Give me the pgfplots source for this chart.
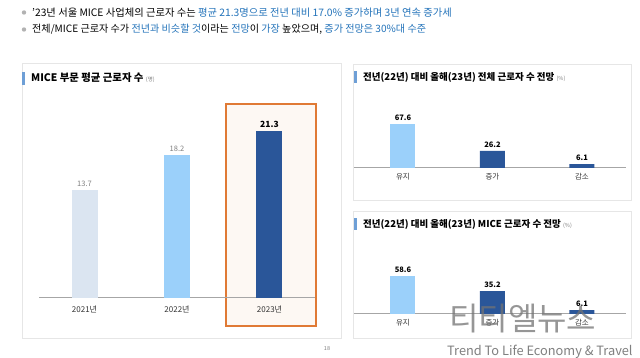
\documentclass[border=0pt]{standalone}
\usepackage{pgfplots}
\pgfplotsset{compat=1.18}
\usepackage{fontspec}
\setmainfont{Noto Sans CJK KR}
\definecolor{c21}{HTML}{DBE5F1}
\definecolor{c22}{HTML}{9BD0FA}
\definecolor{cdark}{HTML}{2A5699}
\definecolor{txtblue}{HTML}{2373BA}
\definecolor{boxor}{HTML}{E07A35}
\definecolor{boxfill}{HTML}{FDF8F3}
\definecolor{marker}{HTML}{6E9FD6}
\definecolor{panelb}{HTML}{E6E6E6}
\definecolor{axl}{HTML}{A6A6A6}
\pgfplotsset{
  barbase/.style={
    anchor=south west, scale only axis, ybar, bar shift=0pt,
    axis x line*=bottom, axis y line=none, ymin=0,
    x axis line style={axl, line width=1pt, -},
    xtick={0,1,2}, major tick length=0pt, ytick=\empty,
    /pgf/number format/assume math mode=true,
    /pgf/number format/fixed, /pgf/number format/fixed zerofill, /pgf/number format/precision=1,
    xticklabel style={font=\fontsize{7.5}{8}\selectfont, text=black!80, yshift=-1.5pt},
    clip=false,
    every axis plot/.append style={draw=none},
    nodes near coords,
  }
}
\begin{document}
\begin{tikzpicture}[x=1pt,y=1pt]
\fill[white] (0,0) rectangle (640,358);
\useasboundingbox (0,0) rectangle (640,358);
% bullet text
\fill[gray!60] (24,345.5) circle (2.2);
\fill[gray!60] (24,328.5) circle (2.2);
\node[anchor=west, inner sep=0, font=\fontsize{10.3}{12}\selectfont] at (32,345.5) {'23년 서울 MICE 사업체의 근로자 수는 \textcolor{txtblue}{평균 21.3명으로 전년 대비 17.0\% 증가하며 3년 연속 증가세}};
\node[anchor=west, inner sep=0, font=\fontsize{10.1}{12}\selectfont] at (32,328.5) {전체/MICE 근로자 수가 \textcolor{txtblue}{전년과 비슷할 것}이라는 \textcolor{txtblue}{전망}이 \textcolor{txtblue}{가장} 높았으며, \textcolor{txtblue}{증가 전망은 30\%대 수준}};
% panels
\draw[panelb, fill=white] (22,20) rectangle (341,295);
\draw[panelb, fill=white] (353,158) rectangle (631,294);
\draw[panelb, fill=white] (353,20) rectangle (631,147);
% markers and titles
\fill[marker] (22,273) rectangle (25,286);
\node[anchor=west, inner sep=0, font=\fontsize{10.4}{12}\selectfont\bfseries] at (31,280) {MICE 부문 평균 근로자 수 {\fontsize{5.5}{6}\selectfont\mdseries\color{gray}(명)}};
\fill[marker] (354,275) rectangle (357,287);
\node[anchor=west, inner sep=0, font=\fontsize{9.5}{11}\selectfont\bfseries] at (363,281) {전년(22년) 대비 올해(23년) 전체 근로자 수 전망 {\fontsize{5.5}{6}\selectfont\mdseries\color{gray}(\%)}};
\fill[marker] (354,128) rectangle (357,140);
\node[anchor=west, inner sep=0, font=\fontsize{9.5}{11}\selectfont\bfseries] at (363,134) {전년(22년) 대비 올해(23년) MICE 근로자 수 전망 {\fontsize{5.5}{6}\selectfont\mdseries\color{gray}(\%)}};
% highlight box
\draw[boxor, fill=boxfill, line width=1.4pt] (226,32) rectangle (316,254);
% left chart
\begin{axis}[barbase, at={(39pt,60pt)}, width=276pt, height=196.25pt,
  xmin=-0.492, xmax=2.492, ymax=25, bar width=26pt,
  xticklabels={2021년,2022년,2023년},
  xticklabel style={font=\fontsize{8}{9}\selectfont, yshift=-3pt}]
\addplot[fill=c21, nodes near coords style={font=\fontsize{7.5}{8}\selectfont, text=black!50}] coordinates {(0,13.7)};
\addplot[fill=c22, nodes near coords style={font=\fontsize{7.5}{8}\selectfont, text=black!50}] coordinates {(1,18.2)};
\addplot[fill=cdark, nodes near coords style={font=\fontsize{8.5}{9}\selectfont\bfseries, text=black}] coordinates {(2,21.3)};
\end{axis}
% right top chart
\begin{axis}[barbase, at={(354pt,190pt)}, width=272pt, height=52pt,
  xmin=-0.547, xmax=2.492, ymax=80, bar width=25pt,
  xticklabels={유지,증가,감소}]
\addplot[fill=c22, nodes near coords style={font=\fontsize{7.5}{8}\selectfont\bfseries, text=black}] coordinates {(0,67.6)};
\addplot[fill=cdark, nodes near coords style={font=\fontsize{7.5}{8}\selectfont\bfseries, text=black}] coordinates {(1,26.2) (2,6.1)};
\end{axis}
% right bottom chart
\begin{axis}[barbase, at={(354pt,44pt)}, width=272pt, height=52pt,
  xmin=-0.547, xmax=2.492, ymax=80, bar width=25pt,
  xticklabels={유지,증가,감소}]
\addplot[fill=c22, nodes near coords style={font=\fontsize{7.5}{8}\selectfont\bfseries, text=black}] coordinates {(0,58.6)};
\addplot[fill=cdark, nodes near coords style={font=\fontsize{7.5}{8}\selectfont\bfseries, text=black}] coordinates {(1,35.2) (2,6.1)};
\end{axis}
% page number
\node[font=\fontsize{5.5}{6}\selectfont, text=gray] at (327,9) {18};
% watermark
\node[anchor=west, inner sep=0, font=\fontsize{32}{34}\selectfont, text=black!55, opacity=0.75] at (449,39) {티티엘뉴스};
\node[anchor=west, inner sep=0, font=\fontsize{12.8}{13}\selectfont, text=black!50] at (447,6) {Trend To Life Economy \& Travel};
\end{tikzpicture}
\end{document}
